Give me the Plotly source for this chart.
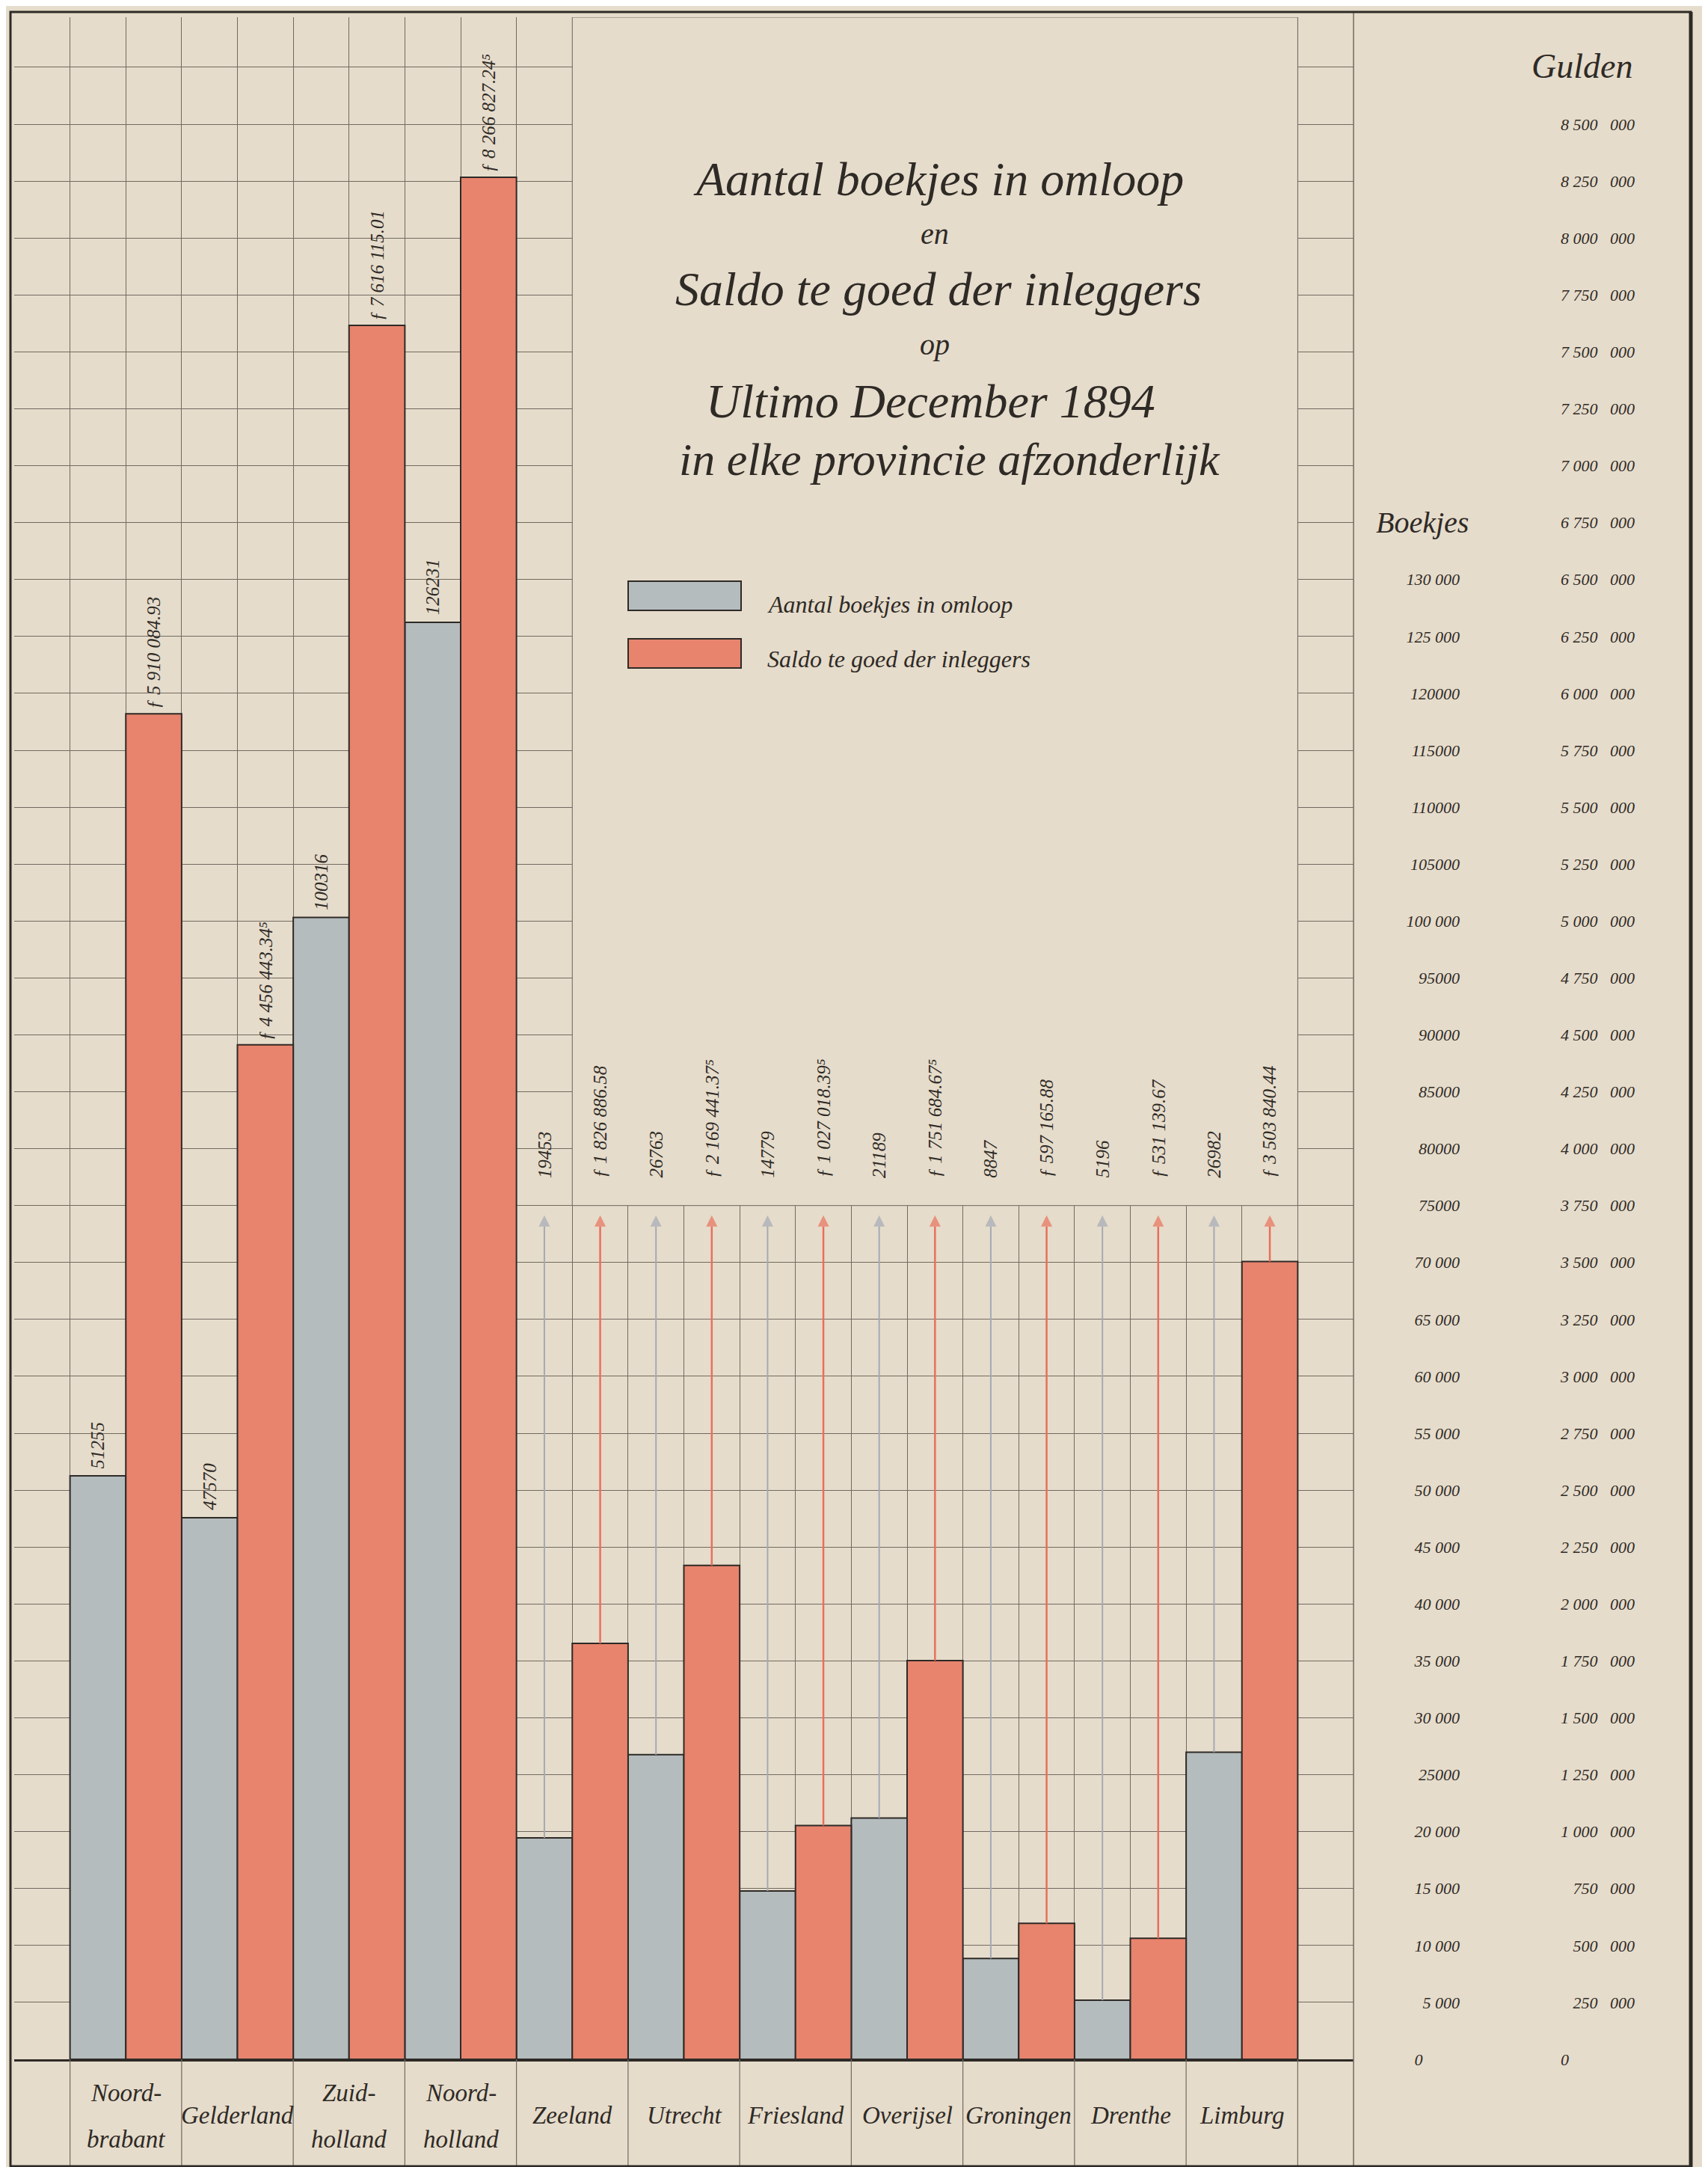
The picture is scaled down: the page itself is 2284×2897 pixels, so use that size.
import plotly.graph_objects as go

# ---------------- data ----------------
provinces = ["Noord-brabant", "Gelderland", "Zuid-holland", "Noord-holland", "Zeeland",
             "Utrecht", "Friesland", "Overijsel", "Groningen", "Drenthe", "Limburg"]
boekjes = [51255, 47570, 100316, 126231, 19453, 26763, 14779, 21189, 8847, 5196, 26982]
saldo = [5910084.93, 4456443.345, 7616115.01, 8266827.245, 1826886.58, 2169441.375,
         1027018.395, 1751684.675, 597165.88, 531139.67, 3503840.44]

boekjes_tickvals = [0, 5000, 10000, 15000, 20000, 25000, 30000, 35000, 40000, 45000, 50000,
                    55000, 60000, 65000, 70000, 75000, 80000, 85000, 90000, 95000, 100000,
                    105000, 110000, 115000, 120000, 125000, 130000]
boekjes_ticktext = ["0", "5 000", "10 000", "15 000", "20 000", "25000", "30 000", "35 000",
                    "40 000", "45 000", "50 000", "55 000", "60 000", "65 000", "70 000",
                    "75000", "80000", "85000", "90000", "95000", "100 000", "105000",
                    "110000", "115000", "120000", "125 000", "130 000"]
gulden_tickvals = [0, 250000, 500000, 750000, 1000000, 1250000, 1500000, 1750000, 2000000,
                   2250000, 2500000, 2750000, 3000000, 3250000, 3500000, 3750000, 4000000,
                   4250000, 4500000, 4750000, 5000000, 5250000, 5500000, 5750000, 6000000,
                   6250000, 6500000, 6750000, 7000000, 7250000, 7500000, 7750000, 8000000,
                   8250000, 8500000]
gulden_ticktext = ["0", "250 000", "500 000", "750 000", "1 000 000", "1 250 000", "1 500 000",
                   "1 750 000", "2 000 000", "2 250 000", "2 500 000", "2 750 000", "3 000 000",
                   "3 250 000", "3 500 000", "3 750 000", "4 000 000", "4 250 000", "4 500 000",
                   "4 750 000", "5 000 000", "5 250 000", "5 500 000", "5 750 000", "6 000 000",
                   "6 250 000", "6 500 000", "6 750 000", "7 000 000", "7 250 000", "7 500 000",
                   "7 750 000", "8 000 000", "8 250 000", "8 500 000"]

title_lines = ["Aantal boekjes in omloop", "en", "Saldo te goed der inleggers", "op",
               "Ultimo December 1894", "in elke provincie afzonderlijk"]
legend_labels = ["Aantal boekjes in omloop", "Saldo te goed der inleggers"]
axis_titles = ["Boekjes", "Gulden"]

# ---------------- layout helpers ----------------
W, H = 2284, 2897
ML, MR, MT, MB = 11, 31, 15, 152
PW, PH = W - ML - MR, H - MT - MB


def px(x):
    return (x - ML) / PW


def py(y):
    return (H - MB - y) / PH


RATIO = 50          # 5 000 boekjes on the same height as 250 000 gulden
Y_TOP = 179400
ARROW_TOP = 74150   # centre of the arrow head, tip reaches the 75 000 line
LABEL_BASE = 77300
BLANK_FROM = 75000
FIRST_ARROWED = 4   # provinces from Zeeland on carry their values on top

PAPER = "#e6dccb"
GREY = "#b5bcbe"
RED = "#e8846e"
INK = "#2e2a26"
GRID = "#726a61"
ARROW_GREY = "#a4a9b5"
ARROW_RED = "#e8705b"
SERIF = "Liberation Serif"


def spaced(n):
    s = str(n)
    parts = []
    while len(s) > 3:
        parts.insert(0, s[-3:])
        s = s[:-3]
    parts.insert(0, s)
    return " ".join(parts)


def fmt_gulden(v):
    mills = int(round(v * 1000))
    whole, frac = divmod(mills, 1000)
    cents, half = divmod(frac, 10)
    txt = "ƒ " + spaced(whole) + "." + f"{cents:02d}"
    if half == 5:
        txt += "\u2075"
    return txt


def wide_gap(label):
    if " " in label and len(label) > 3:
        a, b = label.rsplit(" ", 1)
        return a + "\u00a0\u00a0\u00a0" + b
    return label


n = len(provinces)
grey_x = [2 * i + 1 for i in range(n)]
red_x = [2 * i + 2 for i in range(n)]

fig = go.Figure()
fig.add_trace(go.Bar(x=grey_x, y=boekjes, width=1, yaxis="y", name=legend_labels[0],
                     marker=dict(color=GREY, line=dict(color=INK, width=2)),
                     showlegend=False, hoverinfo="x+y"))
fig.add_trace(go.Bar(x=red_x, y=saldo, width=1, yaxis="y3", name=legend_labels[1],
                     marker=dict(color=RED, line=dict(color=INK, width=2)),
                     showlegend=False, hoverinfo="x+y"))


# guide arrows from the bar tops up to the 75 000 line
def arrow_trace(xs, vals, top, color, lw, yaxis):
    ax, ay, sizes = [], [], []
    for x, v in zip(xs, vals):
        ax += [x, x, None]
        ay += [v, top, None]
        sizes += [0, 15, 0]
    return go.Scatter(x=ax, y=ay, yaxis=yaxis, mode="lines+markers",
                      line=dict(color=color, width=lw),
                      marker=dict(symbol="arrow-up", size=sizes, color=color,
                                  line=dict(width=0)),
                      showlegend=False, hoverinfo="skip")


fig.add_trace(arrow_trace(grey_x[FIRST_ARROWED:], boekjes[FIRST_ARROWED:], ARROW_TOP,
                          ARROW_GREY, 2, "y"))
fig.add_trace(arrow_trace(red_x[FIRST_ARROWED:], saldo[FIRST_ARROWED:], ARROW_TOP * RATIO,
                          ARROW_RED, 2.5, "y3"))

tickfont = dict(family=SERIF, size=22, color=INK, style="italic")
gulden_labels = [wide_gap(t) for t in gulden_ticktext]
gulden_labels[0] = "0" + "\u00a0" * 16
boekjes_labels = list(boekjes_ticktext)
boekjes_labels[0] = "0" + "\u00a0" * 9

fig.update_layout(
    width=W, height=H,
    margin=dict(l=ML, r=MR, t=MT, b=MB, autoexpand=False),
    paper_bgcolor=PAPER, plot_bgcolor=PAPER,
    showlegend=False, barmode="overlay",
    xaxis=dict(domain=[0, px(1802)], range=[-0.5, 23.5], tickmode="linear", tick0=0.5, dtick=1,
               showticklabels=False, ticks="", showgrid=True, gridcolor=GRID, gridwidth=1,
               zeroline=False, showline=True, linecolor=INK, linewidth=3, anchor="y",
               automargin=False),
    yaxis=dict(range=[0, Y_TOP], anchor="free", position=px(1944), side="left",
               tickmode="array", tickvals=boekjes_tickvals, ticktext=boekjes_labels,
               ticks="", showgrid=True, gridcolor=GRID, gridwidth=1,
               minor=dict(tickmode="linear", tick0=0, dtick=5000, showgrid=True,
                          gridcolor=GRID, gridwidth=1),
               zeroline=False, showline=False, tickfont=tickfont, automargin=False),
    yaxis3=dict(range=[0, Y_TOP * RATIO], overlaying="y", anchor="free", position=px(2178),
                side="left", tickmode="array", tickvals=gulden_tickvals, ticktext=gulden_labels,
                ticks="", showgrid=False, zeroline=False, showline=False, tickfont=tickfont,
                automargin=False),
)

shapes = []
# blank title field (no grid): covers the grid, sits above the (absent) bars there
shapes.append(dict(type="rect", xref="x", yref="y", x0=9.5, x1=22.5, y0=BLANK_FROM, y1=Y_TOP,
                   fillcolor=PAPER, line=dict(color=GRID, width=1), layer="above"))
# column lines in the name strip
for k in range(n + 1):
    shapes.append(dict(type="line", xref="x", yref="paper", x0=2 * k + 0.5, x1=2 * k + 0.5,
                       y0=py(2888), y1=0, line=dict(color=GRID, width=1.2)))
# right boundary of the chart field
shapes.append(dict(type="line", xref="paper", yref="paper", x0=px(1802), x1=px(1802),
                   y0=py(2888), y1=py(8), line=dict(color=GRID, width=1.5)))
# outer frame
shapes.append(dict(type="rect", xref="paper", yref="paper", x0=px(6), x1=px(2253),
                   y0=py(2888), y1=py(8), line=dict(color=INK, width=3)))
shapes.append(dict(type="line", xref="paper", yref="paper", x0=px(2253), x1=px(2253),
                   y0=py(2890), y1=py(8), line=dict(color=INK, width=5)))
# legend keys
shapes.append(dict(type="rect", xref="paper", yref="paper", x0=px(832), x1=px(983),
                   y0=py(808), y1=py(769), fillcolor=GREY, line=dict(color=INK, width=2),
                   layer="above"))
shapes.append(dict(type="rect", xref="paper", yref="paper", x0=px(832), x1=px(983),
                   y0=py(885), y1=py(846), fillcolor=RED, line=dict(color=INK, width=2),
                   layer="above"))

ann = []
valfont = dict(family=SERIF, size=25, color=INK, style="italic")
for i in range(n):
    gx, rx = grey_x[i], red_x[i]
    if i < FIRST_ARROWED:
        ann.append(dict(x=gx, y=boekjes[i], xref="x", yref="y", text=str(boekjes[i]),
                        textangle=-90, showarrow=False, yanchor="bottom", xanchor="center",
                        yshift=8, font=valfont))
        ann.append(dict(x=rx, y=saldo[i], xref="x", yref="y3", text=fmt_gulden(saldo[i]),
                        textangle=-90, showarrow=False, yanchor="bottom", xanchor="center",
                        yshift=4, font=valfont))
    else:
        ann.append(dict(x=gx, y=LABEL_BASE, xref="x", yref="y", text=str(boekjes[i]),
                        textangle=-90, showarrow=False, yanchor="bottom", xanchor="center",
                        font=valfont))
        ann.append(dict(x=rx, y=LABEL_BASE, xref="x", yref="y", text=fmt_gulden(saldo[i]),
                        textangle=-90, showarrow=False, yanchor="bottom", xanchor="center",
                        font=valfont))

# province names
catfont = dict(family=SERIF, size=33, color=INK, style="italic")
for i, name in enumerate(provinces):
    cx = 2 * i + 1.5
    if "-" in name:
        a, b = name.split("-", 1)
        ann.append(dict(x=cx, y=py(2790), xref="x", yref="paper", text=a + "-",
                        showarrow=False, font=catfont, yanchor="middle"))
        ann.append(dict(x=cx, y=py(2852), xref="x", yref="paper", text=b,
                        showarrow=False, font=catfont, yanchor="middle"))
    else:
        ann.append(dict(x=cx, y=py(2820), xref="x", yref="paper", text=name,
                        showarrow=False, font=catfont, yanchor="middle"))

# title block
title_pos = [(1247, 231, 64), (1242, 305, 40), (1247, 379, 64), (1242, 453, 40),
             (1236, 528, 64), (1262, 606, 62)]
for txt, (tx, ty, ts) in zip(title_lines, title_pos):
    ann.append(dict(x=px(tx), y=py(ty), xref="paper", yref="paper", text=txt,
                    showarrow=False, xanchor="center", yanchor="middle",
                    font=dict(family=SERIF, size=ts, color=INK, style="italic")))

# legend text
legfont = dict(family=SERIF, size=32, color=INK, style="italic")
ann.append(dict(x=px(1016), y=py(800), xref="paper", yref="paper", text=legend_labels[0],
                showarrow=False, xanchor="left", yanchor="middle", font=legfont))
ann.append(dict(x=px(1016), y=py(873), xref="paper", yref="paper", text=legend_labels[1],
                showarrow=False, xanchor="left", yanchor="middle", font=legfont))

# axis headings
ann.append(dict(x=px(1894), y=py(690), xref="paper", yref="paper", text=axis_titles[0],
                showarrow=False, xanchor="center", yanchor="middle",
                font=dict(family=SERIF, size=40, color=INK, style="italic")))
ann.append(dict(x=px(2107), y=py(80), xref="paper", yref="paper", text=axis_titles[1],
                showarrow=False, xanchor="center", yanchor="middle",
                font=dict(family=SERIF, size=46, color=INK, style="italic")))

fig.update_layout(shapes=shapes, annotations=ann)
fig.write_html("out.html")
